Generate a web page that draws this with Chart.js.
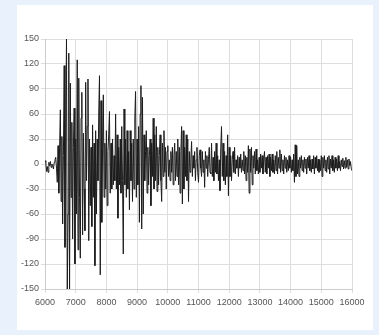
<!DOCTYPE html>
<html>
<head>
<meta charset="utf-8">
<script src="https://cdn.jsdelivr.net/npm/chart.js@4.4.0/dist/chart.umd.min.js"></script>
<style>
  html, body { margin: 0; padding: 0; }
  body { width: 379px; height: 335px; background: #e9f2fc; position: relative; overflow: hidden; }
  .panel { position: absolute; left: 17px; top: 5px; width: 356px; height: 325px; background: #fff; }
  canvas { display: block; }
</style>
</head>
<body>
<div class="panel"><canvas id="wave" width="356" height="325"></canvas></div>
<script>
"use strict";
// sampling of the trace (x of first sample and spacing between samples)
const sampleStart = 6000;
const sampleStep = 25;

// amplitude, one row per 500 units of x
const amplitudes = [
  4, 2, -9, -3, -10, 2, -2, 3, -4, 0, -2, -6, 2, 5, 8, -5, -22, 22, -35, 20,
  65, -45, 33, -72, 10, 118, -100, 40, 150, -158, -60, 133, -155, 97, -40, 50, -90, 20, 67, -120,
  30, -60, 125, -103, 103, -40, -113, 55, 86, -85, 37, -30, -80, 98, -20, 45, 102, -92, 30, -50,
  20, -75, 47, -40, 25, -122, 40, -60, 30, -20, 60, 106, -133, 76, -70, 20, 83, -40, 25, -30,
  40, -50, 15, 35, 63, -35, 25, -30, 30, -25, 10, -20, 60, -30, 35, -65, 20, -25, 30, -35,
  45, -20, -108, 66, -25, 30, -40, 40, -30, 15, -55, 40, -20, 25, -45, 30, -30, 55, 87, -40,
  30, -25, 45, -70, 60, 94, -78, 80, -60, 35, -20, 15, 40, -35, 20, -25, 10, 30, -50, 25,
  -15, 55, -30, 35, -20, 45, -33, 20, -25, 10, 35, -20, -45, 25, -15, 40, -10, 20, -30, 15,
  22, -15, 5, -20, 15, -10, 20, -25, 10, 25, -20, 15, -15, 30, -25, 20, -35, 15, 45, -48,
  40, -30, 20, -15, 35, -20, 30, -45, 15, -10, 5, 27, -15, 10, -5, 15, -20, 5, 20, -10,
  -22, 10, 17, -5, -15, 15, -10, 5, -28, 15, -5, 10, -15, 5, 20, -10, -12, 25, -15, 8,
  -20, 15, -10, 25, -12, 10, -20, 5, -32, 20, 45, -15, 25, -20, 15, -25, 10, -15, 35, -38,
  20, -15, 10, -20, 5, 15, -10, 20, -12, 5, -5, 10, -15, 8, -5, 12, -10, 5, -8, 15,
  -12, 10, -20, 8, -10, 22, -35, 18, -10, 20, -25, 10, -5, 15, -12, 18, -8, 5, -12, 8,
  -10, 12, -5, 10, -12, 5, 15, -10, 8, -12, 10, -5, 12, -15, 8, -8, 12, -10, 5, -12,
  10, -8, 15, -12, 8, -5, 17, -10, 12, -8, 5, -12, 10, -5, 8, -10, 5, -8, 10, -5,
  8, -10, 5, -8, 12, -22, 23, -15, 22, -12, 5, -15, 8, -5, 10, -8, 5, -10, 8, -5,
  6, -12, 8, -5, 10, -8, 5, -10, 6, -6, 10, -12, 8, -5, 10, -8, 6, -10, 5, -8,
  10, -15, 8, -5, 10, -8, 5, -10, 8, -6, 10, -12, 6, -5, 10, -8, 5, -10, 8, -5,
  6, -8, 10, -5, 3, -8, 5, -3, 7, -6, 4, -5, 8, -4, 5, -6, 6, -2, 3, -5,
  -8
];

// axis ticks
const xTicks = [6000, 7000, 8000, 9000, 10000, 11000, 12000, 13000, 14000, 15000, 16000];
const yTicks = [-150, -120, -90, -60, -30, 0, 30, 60, 90, 120, 150];

const points = amplitudes.map(function (v, i) {
  return { x: sampleStart + i * sampleStep, y: v };
});

const tickFont = { family: "'Liberation Sans Narrow', 'Liberation Sans', Arial, sans-serif", size: 9 };

new Chart(document.getElementById("wave"), {
  type: "line",
  data: {
    datasets: [
      {
        data: points,
        borderColor: "#1c1c1c",
        borderWidth: 1,
        pointRadius: 0,
        tension: 0,
        fill: false,
      },
    ],
  },
  options: {
    responsive: false,
    animation: false,
    layout: { padding: { top: 34, right: 21, bottom: 0, left: 0 } },
    plugins: { legend: { display: false }, tooltip: { enabled: false } },
    scales: {
      x: {
        type: "linear",
        min: xTicks[0],
        max: xTicks[xTicks.length - 1],
        afterBuildTicks: function (scale) {
          scale.ticks = xTicks.map(function (v) { return { value: v }; });
        },
        afterFit: function (scale) { scale.height = 41; },
        grid: { color: "#dddddd", tickLength: 4 },
        border: { color: "#cccccc" },
        ticks: { color: "#555", font: tickFont, maxRotation: 0, padding: 4,
          callback: function (v) { return String(v); } },
      },
      y: {
        min: yTicks[0],
        max: yTicks[yTicks.length - 1],
        afterBuildTicks: function (scale) {
          scale.ticks = yTicks.map(function (v) { return { value: v }; });
        },
        afterFit: function (scale) { scale.width = 28; },
        grid: { color: "#dddddd", tickLength: 4 },
        border: { color: "#cccccc" },
        ticks: { color: "#555", font: tickFont, padding: 2 },
      },
    },
  },
});
</script>
</body>
</html>
